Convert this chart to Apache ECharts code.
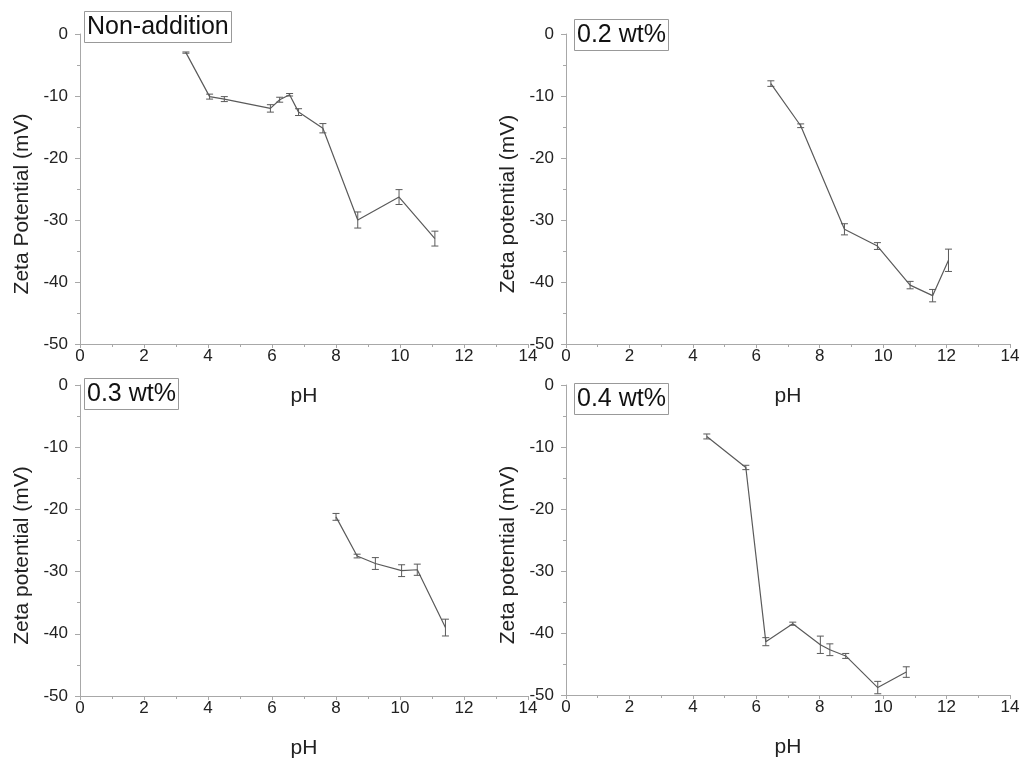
<!DOCTYPE html>
<html>
<head>
<meta charset="utf-8">
<script src="https://cdn.jsdelivr.net/npm/echarts@6/dist/echarts.min.js"></script>
<style>html,body{margin:0;padding:0;background:#fff}#c{width:1027px;height:763px}</style>
</head>
<body>
<div id="c"></div>
<script>
// Panel labels
const panelLabels = ['Non-addition', '0.2 wt%', '0.3 wt%', '0.4 wt%'];
const yTitles = ['Zeta Potential (mV)', 'Zeta potential (mV)', 'Zeta potential (mV)', 'Zeta potential (mV)'];
const xTitle = 'pH';

// Non-addition
const ph0  = [3.31, 4.05, 4.51, 5.95, 6.24, 6.55, 6.83, 7.59, 8.68, 9.97, 11.09];
const zp0  = [-3.0, -10.1, -10.5, -12.0, -10.6, -9.8, -12.6, -15.2, -30.0, -26.3, -33.0];
const err0 = [0.1, 0.4, 0.4, 0.6, 0.4, 0.2, 0.55, 0.75, 1.3, 1.2, 1.2];
// 0.2 wt%
const ph1  = [6.46, 7.40, 8.78, 9.82, 10.85, 11.56, 12.06];
const zp1  = [-8.0, -14.8, -31.5, -34.2, -40.5, -42.2, -36.5];
const err1 = [0.45, 0.3, 0.9, 0.55, 0.6, 1.0, 1.8];
// 0.3 wt%
const ph2  = [8.00, 8.66, 9.23, 10.05, 10.54, 11.42];
const zp2  = [-21.2, -27.5, -28.7, -29.85, -29.7, -39.0];
const err2 = [0.55, 0.3, 0.95, 0.95, 0.9, 1.35];
// 0.4 wt%
const ph3  = [4.44, 5.67, 6.30, 7.15, 8.02, 8.32, 8.82, 9.83, 10.73];
const zp3  = [-8.3, -13.3, -41.4, -38.5, -41.9, -42.7, -43.7, -48.8, -46.3];
const err3 = [0.4, 0.35, 0.65, 0.25, 1.4, 0.95, 0.4, 1.0, 0.85];

const xs = [ph0, ph1, ph2, ph3];
const ys = [zp0, zp1, zp2, zp3];
const es = [err0, err1, err2, err3];

const grids = [
  {left: 80, top: 34, width: 448, height: 310},
  {left: 566, top: 34, width: 444, height: 310},
  {left: 80, top: 385, width: 448, height: 311},
  {left: 566, top: 385, width: 444, height: 310}
];
const axisCol = '#a8a8a8';
const txtCol = '#222';
const fontFam = 'Liberation Sans, Arial, sans-serif';

const xAxes = [], yAxes = [], series = [], titles = [];
for (let i = 0; i < 4; i++) {
  xAxes.push({
    gridIndex: i, type: 'value', min: 0, max: 14, interval: 2,
    name: xTitle, nameLocation: 'middle', nameGap: 42,
    nameTextStyle: {fontSize: 21, color: txtCol, fontFamily: fontFam},
    axisLine: {show: true, onZero: false, lineStyle: {color: axisCol, width: 1}},
    axisTick: {show: true, length: 4, lineStyle: {color: axisCol}},
    minorTick: {show: true, splitNumber: 2, length: 3, lineStyle: {color: axisCol}},
    axisLabel: {fontSize: 17, color: txtCol, margin: 4, fontFamily: fontFam, showMaxLabel: true, showMinLabel: true},
    splitLine: {show: false}
  });
  yAxes.push({
    gridIndex: i, type: 'value', min: -50, max: 0, interval: 10,
    name: yTitles[i], nameLocation: 'middle', nameGap: 47,
    nameTextStyle: {fontSize: 21, color: txtCol, fontFamily: fontFam, padding: [0, 30, 0, 0]},
    axisLine: {show: true, onZero: false, lineStyle: {color: axisCol, width: 1}},
    axisTick: {show: true, length: 5, lineStyle: {color: axisCol}},
    minorTick: {show: true, splitNumber: 2, length: 3, lineStyle: {color: axisCol}},
    axisLabel: {fontSize: 17, color: txtCol, margin: 12, fontFamily: fontFam},
    splitLine: {show: false}
  });
  const pts = xs[i].map((x, k) => [x, ys[i][k]]);
  series.push({
    type: 'line', xAxisIndex: i, yAxisIndex: i, data: pts,
    symbol: 'none', lineStyle: {color: '#5a5a5a', width: 1.2}, silent: true, animation: false, z: 2
  });
  const ebars = xs[i].map((x, k) => [x, ys[i][k] - es[i][k], ys[i][k] + es[i][k]]);
  series.push({
    type: 'custom', xAxisIndex: i, yAxisIndex: i, data: ebars, animation: false, silent: true, z: 3,
    encode: {x: 0, y: [1, 2]},
    renderItem: function (params, api) {
      const lo = api.coord([api.value(0), api.value(1)]);
      const hi = api.coord([api.value(0), api.value(2)]);
      const w = 3.5;
      const st = {stroke: '#5a5a5a', lineWidth: 1, fill: null};
      return {type: 'group', children: [
        {type: 'line', shape: {x1: lo[0], y1: lo[1], x2: hi[0], y2: hi[1]}, style: st},
        {type: 'line', shape: {x1: lo[0] - w, y1: lo[1], x2: lo[0] + w, y2: lo[1]}, style: st},
        {type: 'line', shape: {x1: hi[0] - w, y1: hi[1], x2: hi[0] + w, y2: hi[1]}, style: st}
      ]};
    }
  });
}
const titlePos = [
  {left: 84, top: 11}, {left: 574, top: 19}, {left: 84, top: 378}, {left: 574, top: 383}
];
for (let i = 0; i < 4; i++) {
  titles.push({
    text: panelLabels[i], left: titlePos[i].left, top: titlePos[i].top,
    padding: [4, 3, 3, 3], borderColor: '#999', borderWidth: 1,
    textStyle: {fontSize: 25, fontWeight: 'normal', color: '#111', fontFamily: fontFam}
  });
}

const chart = echarts.init(document.getElementById('c'), null, {renderer: 'canvas'});
chart.setOption({
  backgroundColor: '#fff',
  animation: false,
  title: titles,
  grid: grids,
  xAxis: xAxes,
  yAxis: yAxes,
  series: series
});
</script>
</body>
</html>
